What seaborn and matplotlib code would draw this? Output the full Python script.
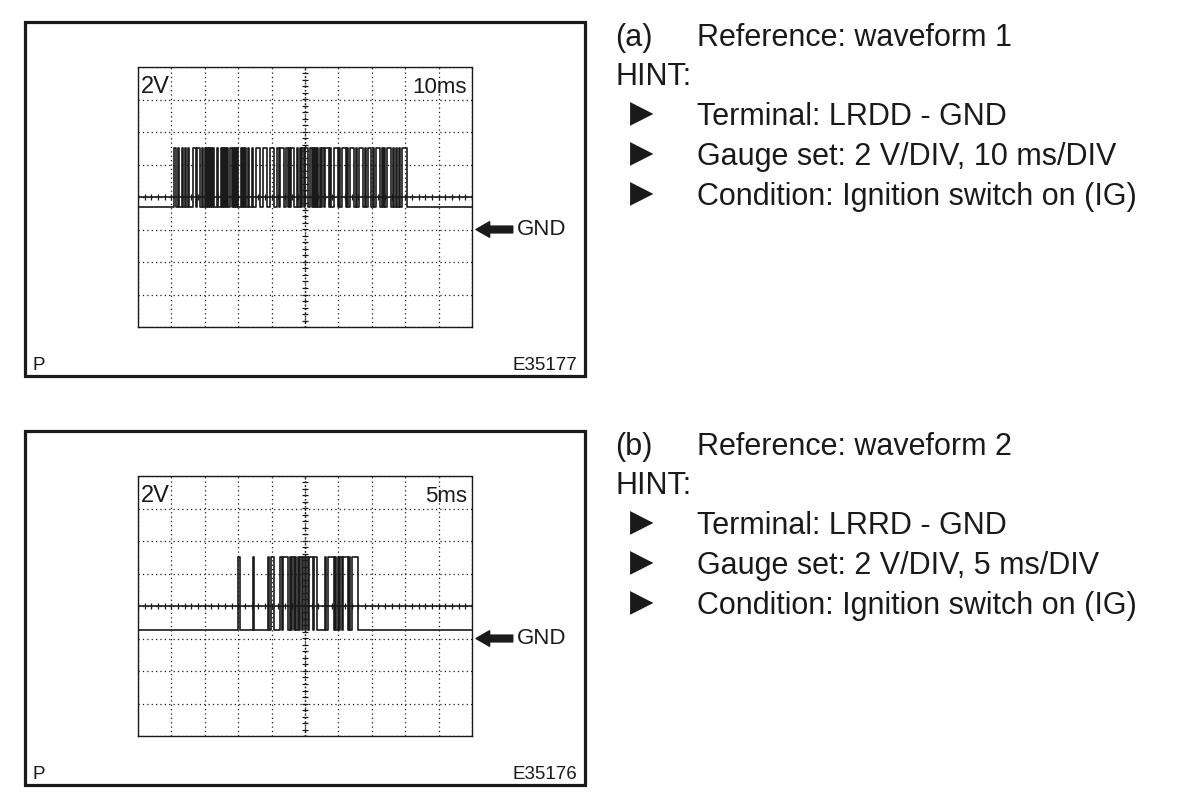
import numpy as np
import pandas as pd
import matplotlib
matplotlib.use("Agg")
import matplotlib.pyplot as plt
from matplotlib.patches import Rectangle
import seaborn as sns

# ---------------- data ----------------
# waveform (a): 10 ms/DIV, 2 V/DIV, levels in volts (GND = 0)
a_time_span = 100.0
a_high = 5.0
a_low = 1.4
a_rise = [10.9, 12.1, 13.3, 14.2, 15.0, 16.4, 17.6, 19.2, 20.0, 20.6, 21.2, 21.8, 22.4,
          23.6, 24.8, 25.4, 26.0, 26.6, 27.6, 28.3, 28.9, 29.6, 30.8, 31.5, 32.1, 32.8,
          34.1, 35.3, 37.4, 39.5, 41.6, 42.6, 44.4, 45.2, 45.9, 47.5, 48.4, 49.0, 50.0,
          51.5, 52.3, 53.0, 53.7, 54.4, 55.1, 56.0, 57.6, 58.6, 60.3, 61.2, 62.6, 63.6,
          65.4, 66.3, 68.0, 68.8, 70.5, 71.4, 73.0, 73.8, 74.7, 76.4, 77.3, 78.2, 79.0]
a_fall = [11.3, 12.4, 13.6, 14.5, 15.3, 17.3, 18.6, 19.5, 20.3, 20.9, 21.5, 22.1, 22.8,
          23.9, 25.1, 25.7, 26.3, 26.9, 28.0, 28.6, 29.2, 29.9, 31.1, 31.8, 32.4, 33.1,
          34.4, 36.6, 38.6, 40.7, 42.3, 43.8, 44.8, 45.5, 46.8, 48.0, 48.7, 49.6, 50.9,
          52.0, 52.6, 53.3, 54.0, 54.7, 55.6, 57.2, 57.9, 59.8, 60.6, 62.2, 63.0, 64.8,
          65.7, 67.4, 68.3, 69.9, 70.8, 72.6, 73.3, 74.1, 75.8, 76.7, 77.6, 78.5, 80.4]

# waveform (b): 5 ms/DIV, 2 V/DIV
b_time_span = 50.0
b_high = 5.0
b_low = 0.55
b_rise = [15.0, 17.2, 19.4, 19.9, 21.3, 21.7, 22.7, 23.1, 23.5, 23.9, 24.3, 24.7, 25.2,
          25.6, 26.4, 28.0, 28.4, 29.5, 29.9, 30.3, 30.7, 31.6, 32.0]
b_fall = [15.25, 17.4, 19.6, 20.3, 21.5, 22.5, 22.9, 23.3, 23.7, 24.1, 24.5, 25.0, 25.4,
          26.2, 26.8, 28.2, 29.3, 29.7, 30.1, 30.5, 31.4, 31.8, 32.9]

a_labels = ["2V", "10ms", "E35177"]
b_labels = ["2V", "5ms", "E35176"]
a_hint = ["(a)", "Reference: waveform 1", "Terminal: LRDD - GND",
          "Gauge set: 2 V/DIV, 10 ms/DIV", "Condition: Ignition switch on (IG)"]
b_hint = ["(b)", "Reference: waveform 2", "Terminal: LRRD - GND",
          "Gauge set: 2 V/DIV, 5 ms/DIV", "Condition: Ignition switch on (IG)"]

# ---------------- figure ----------------
W, H = 1184, 798
sns.set_theme(style="white")
plt.rcParams["font.family"] = ["Liberation Sans", "DejaVu Sans"]
fig = plt.figure(figsize=(W / 100, H / 100), dpi=100)
fig.patch.set_facecolor("white")


def fx(x):
    return x / W


def fy(y):
    return 1 - y / H


def ftext(x, y, s, **kw):
    fig.text(fx(x), fy(y), s, color="k", **kw)


def wave_df(rise, fall, hi, lo, t_end):
    t = [0.0]
    v = [lo]
    for r, f in zip(rise, fall):
        t += [r, f]
        v += [hi, lo]
    t.append(t_end)
    v.append(lo)
    return pd.DataFrame({"t": t, "v": v})


def panel(top, rise, fall, hi, lo, t_end, labels, hint):
    # outer frame
    box_top = top - 45
    fig.add_artist(Rectangle((fx(25), fy(box_top + 354)), 560 / W, 354 / H,
                             transform=fig.transFigure, fill=False, lw=2.3, ec="k"))
    # scope grid axes
    ax = fig.add_axes([fx(138), fy(top + 260), 334 / W, 260 / H])
    df = wave_df(rise, fall, hi, lo, t_end)
    sns.lineplot(data=df, x="t", y="v", ax=ax, drawstyle="steps-post", color="k",
                 lw=1.2, estimator=None, sort=False)
    ax.set_xlim(0, t_end)
    ax.set_ylim(-6, 10)
    ax.set_xticks(np.linspace(0, t_end, 11))
    ax.set_yticks(np.arange(-6, 10.01, 2))
    ax.tick_params(length=0, labelbottom=False, labelleft=False)
    ax.set_xlabel("")
    ax.set_ylabel("")
    ax.grid(True, color="k", ls=(0, (1, 2.5)), lw=0.9)
    for s in ax.spines.values():
        s.set_visible(True)
        s.set_color("k")
        s.set_linestyle((0, (1, 1)))
        s.set_linewidth(1.0)
    # center cross with minor ticks
    ax.axhline(2, color="k", lw=1.2)
    xs = np.arange(0, t_end + 1e-9, t_end / 50)
    ax.vlines(xs, 2 - 0.2, 2 + 0.2, color="k", lw=0.9)
    cx = t_end / 2
    d = t_end / 10 * 0.08
    ys = np.arange(-6, 10.01, 0.4)
    ax.hlines(ys, cx - d, cx + d, color="k", lw=0.9)
    ax.axvline(cx, color="k", lw=1.0, ls=(0, (1, 1.5)))
    # GND arrow
    tr = ax.get_yaxis_transform()
    ax.annotate("", xy=(1.012, 0), xytext=(1.122, 0), xycoords=tr, textcoords=tr,
                annotation_clip=False,
                arrowprops=dict(arrowstyle="simple,head_length=0.7,head_width=0.8,tail_width=0.35",
                                fc="k", ec="k", shrinkA=0, shrinkB=0, mutation_scale=14))
    ax.text(1.135, 0, "GND", transform=tr, ha="left", va="center", fontsize=16, color="k")
    # labels
    ftext(141, top + 26, labels[0], fontsize=17, ha="left", va="baseline")
    ftext(467, top + 26, labels[1], fontsize=16, ha="right", va="baseline")
    ftext(32, box_top + 348, "P", fontsize=13.5, ha="left", va="baseline")
    ftext(577, box_top + 348, labels[2], fontsize=13.5, ha="right", va="baseline")
    # hint text
    base = box_top + 24
    ftext(615, base, hint[0], fontsize=22, ha="left", va="baseline")
    ftext(697, base, hint[1], fontsize=22, ha="left", va="baseline")
    ftext(615, base + 39, "HINT:", fontsize=22, ha="left", va="baseline")
    for i, s in enumerate(hint[2:]):
        yb = base + 79 + 40 * i
        ftext(642, yb - 11, "\u25B6", fontsize=22, ha="center", va="center",
              family=["DejaVu Sans"])
        ftext(697, yb, s, fontsize=22, ha="left", va="baseline")
    return ax


panel(67, a_rise, a_fall, a_high, a_low, a_time_span, a_labels, a_hint)
panel(476, b_rise, b_fall, b_high, b_low, b_time_span, b_labels, b_hint)

fig.savefig("out.png", dpi=100, facecolor="white")
